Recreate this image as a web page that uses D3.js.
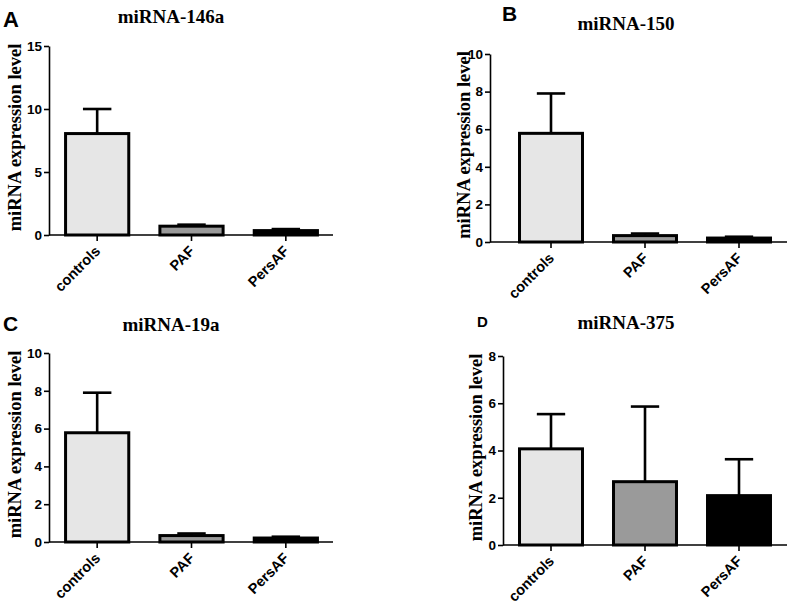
<!DOCTYPE html>
<html>
<head>
<meta charset="utf-8">
<script src="https://cdn.jsdelivr.net/npm/d3@7/dist/d3.min.js"></script>
<style>
  html, body { margin: 0; padding: 0; background: #fff; }
  svg { display: block; }
</style>
</head>
<body>
<svg id="chart" width="792" height="607"></svg>
<script>
// ---- Data ----
const categories = ["controls", "PAF", "PersAF"];
const titles = ["miRNA-146a", "miRNA-150", "miRNA-19a", "miRNA-375"];
const panelLetters = ["A", "B", "C", "D"];
const yAxisLabel = "miRNA expression level";

const means146a = [8.05, 0.7, 0.35];
const err146a   = [1.95, 0.12, 0.12];
const means150  = [5.78, 0.34, 0.21];
const err150    = [2.12, 0.11, 0.07];
const means19a  = [5.78, 0.34, 0.21];
const err19a    = [2.12, 0.11, 0.07];
const means375  = [4.07, 2.68, 2.09];
const err375    = [1.47, 3.18, 1.54];

const yTicks146a = [0, 5, 10, 15];
const yTicks150  = [0, 2, 4, 6, 8, 10];
const yTicks19a  = [0, 2, 4, 6, 8, 10];
const yTicks375  = [0, 2, 4, 6, 8];

const fillColors = ["#e6e6e6", "#9a9a9a", "#000000"];

// ---- Layout (positions only) ----
const layouts = [
  {axisX: 49,  xEnd: 333, b0: 50,  b1: 333, yTop: 46,  yZero: 235, titleX: 171, titleY: 23,  letterX: 3,   letterY: 27,  letterSize: 22, ylabX: 21},
  {axisX: 490, xEnd: 787, b0: 504, b1: 786, yTop: 54,  yZero: 242, titleX: 626, titleY: 30,  letterX: 502, letterY: 21,  letterSize: 21, ylabX: 470},
  {axisX: 49,  xEnd: 333, b0: 50,  b1: 333, yTop: 353, yZero: 542, titleX: 171, titleY: 331, letterX: 3,   letterY: 331, letterSize: 21, ylabX: 21},
  {axisX: 503, xEnd: 787, b0: 504, b1: 786, yTop: 356, yZero: 545, titleX: 626, titleY: 329, letterX: 477, letterY: 327, letterSize: 15, ylabX: 482}
];

const panels = [
  {means: means146a, errs: err146a, ticks: yTicks146a},
  {means: means150,  errs: err150,  ticks: yTicks150},
  {means: means19a,  errs: err19a,  ticks: yTicks19a},
  {means: means375,  errs: err375,  ticks: yTicks375}
];

const svg = d3.select("#chart");
svg.append("rect").attr("width", 792).attr("height", 607).attr("fill", "#fff");

panels.forEach((p, i) => {
  const L = layouts[i];
  const g = svg.append("g");
  const yMax = d3.max(p.ticks);

  const x = d3.scaleBand().domain(categories).range([L.b0, L.b1])
    .paddingInner(0.33).paddingOuter(0.165);
  const y = d3.scaleLinear().domain([0, yMax]).range([L.yZero, L.yTop]);

  const data = categories.map((c, k) => ({c, v: p.means[k], e: p.errs[k], fill: fillColors[k]}));

  // error bars (drawn first, bar covers lower part)
  const capW = x.bandwidth() * 0.45;
  g.selectAll(".errv").data(data).join("line")
    .attr("x1", d => x(d.c) + x.bandwidth() / 2)
    .attr("x2", d => x(d.c) + x.bandwidth() / 2)
    .attr("y1", d => y(d.v))
    .attr("y2", d => y(d.v + d.e))
    .attr("stroke", "#000").attr("stroke-width", 2.6);
  g.selectAll(".errc").data(data).join("line")
    .attr("x1", d => x(d.c) + x.bandwidth() / 2 - capW / 2)
    .attr("x2", d => x(d.c) + x.bandwidth() / 2 + capW / 2)
    .attr("y1", d => y(d.v + d.e))
    .attr("y2", d => y(d.v + d.e))
    .attr("stroke", "#000").attr("stroke-width", 2.6);

  g.selectAll(".bar").data(data).join("rect")
    .attr("x", d => x(d.c))
    .attr("y", d => y(d.v))
    .attr("width", x.bandwidth())
    .attr("height", d => y(0) - y(d.v))
    .attr("fill", d => d.fill)
    .attr("stroke", "#000")
    .attr("stroke-width", 3);

  // Y axis
  const yAxis = d3.axisLeft(y).tickValues(p.ticks).tickSize(5).tickSizeOuter(0).tickPadding(2);
  const ya = g.append("g").attr("transform", `translate(${L.axisX},0)`).call(yAxis);
  ya.select(".domain").attr("stroke-width", 1.6);
  ya.selectAll(".tick line").attr("stroke-width", 1.6);
  ya.selectAll("text").attr("font-family", "Arial, 'Liberation Sans', sans-serif")
    .attr("font-weight", "bold").attr("font-size", 13.5).attr("fill", "#000");

  // X axis
  const xAxis = d3.axisBottom(x).tickSize(6).tickSizeOuter(0);
  const xa = g.append("g").attr("transform", `translate(0,${L.yZero})`).call(xAxis);
  xa.select(".domain").remove();
  xa.selectAll(".tick line").attr("stroke-width", 1.6);
  xa.selectAll("text")
    .attr("font-family", "Arial, 'Liberation Sans', sans-serif")
    .attr("font-weight", "bold").attr("font-size", 14.5).attr("fill", "#000")
    .attr("text-anchor", "end")
    .attr("x", 0).attr("y", 0).attr("dy", 0)
    .attr("transform", "translate(4,17) rotate(-45)");
  g.append("line")
    .attr("x1", L.axisX).attr("x2", L.xEnd)
    .attr("y1", L.yZero).attr("y2", L.yZero)
    .attr("stroke", "#000").attr("stroke-width", 1.6);

  // Y axis label
  g.append("text")
    .attr("transform", `translate(${L.ylabX},${(L.yTop + L.yZero) / 2 - 3}) rotate(-90)`)
    .attr("text-anchor", "middle")
    .attr("font-family", "'Times New Roman', 'Liberation Serif', serif")
    .attr("font-weight", "bold").attr("font-size", 18.5)
    .text(yAxisLabel);

  // Title
  g.append("text")
    .attr("x", L.titleX).attr("y", L.titleY)
    .attr("text-anchor", "middle")
    .attr("font-family", "'Times New Roman', 'Liberation Serif', serif")
    .attr("font-weight", "bold").attr("font-size", 19)
    .text(titles[i]);

  // Panel letter
  g.append("text")
    .attr("x", L.letterX).attr("y", L.letterY)
    .attr("font-family", "Arial, 'Liberation Sans', sans-serif")
    .attr("font-weight", "bold").attr("font-size", L.letterSize)
    .text(panelLetters[i]);
});
</script>
</body>
</html>
